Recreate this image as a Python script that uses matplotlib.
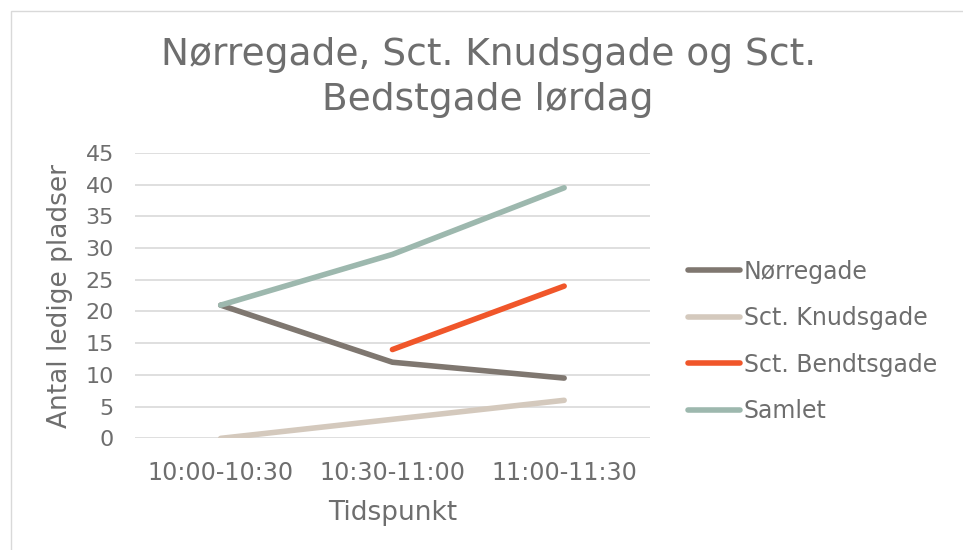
import matplotlib
matplotlib.use("Agg")
import matplotlib.pyplot as plt
import numpy as np
from matplotlib.patches import Rectangle

categories = ["10:00-10:30", "10:30-11:00", "11:00-11:30"]
norregade = [21, 12, 9.5]
knudsgade = [0, 3, 6]
bendtsgade = [np.nan, 14, 24]
samlet = [21, 29, 39.5]
series_names = ["Nørregade", "Sct. Knudsgade", "Sct. Bendtsgade", "Samlet"]
colors = ["#7F7770", "#D4C9BD", "#F0562A", "#9DB8AE"]
title = "Nørregade, Sct. Knudsgade og Sct.\nBedstgade lørdag"

txt = "#6E6E6E"
fig = plt.figure(figsize=(9.63, 5.5), dpi=100)
fig.patches.append(Rectangle((0.011, -0.01), 1.0, 0.99, transform=fig.transFigure,
                             fill=False, edgecolor="#D9D9D9", linewidth=1.0))
ax = fig.add_axes([0.140, 0.203, 0.535, 0.519])
x = np.arange(len(categories))
for vals, name, c in zip([norregade, knudsgade, bendtsgade, samlet], series_names, colors):
    ax.plot(x, vals, color=c, linewidth=4, label=name, solid_capstyle="round")

ax.set_xlim(-0.5, 2.5)
ax.set_ylim(0, 45)
ax.set_yticks(np.arange(0, 46, 5))
ax.set_xticks(x)
ax.set_xticklabels(categories)
ax.grid(axis="y", color="#D9D9D9", linewidth=1.2)
ax.set_axisbelow(True)
for s in ax.spines.values():
    s.set_visible(False)
ax.tick_params(axis="y", length=0, labelsize=16, colors=txt, pad=15)
ax.tick_params(axis="x", length=0, labelsize=17.2, colors=txt, pad=16)
ax.set_ylabel("Antal ledige pladser", fontsize=19, color=txt, labelpad=9)
ax.set_xlabel("Tidspunkt", fontsize=19, color=txt, labelpad=11)

fig.text(0.507, 0.859, title, ha="center", va="center", fontsize=27, color=txt,
         linespacing=1.3)

leg = ax.legend(loc="center left", bbox_to_anchor=(1.033, 0.34), frameon=False,
                fontsize=17, labelcolor=txt, handlelength=2.2, handletextpad=0.15,
                labelspacing=0.95)

fig.savefig("out.png", dpi=100)
